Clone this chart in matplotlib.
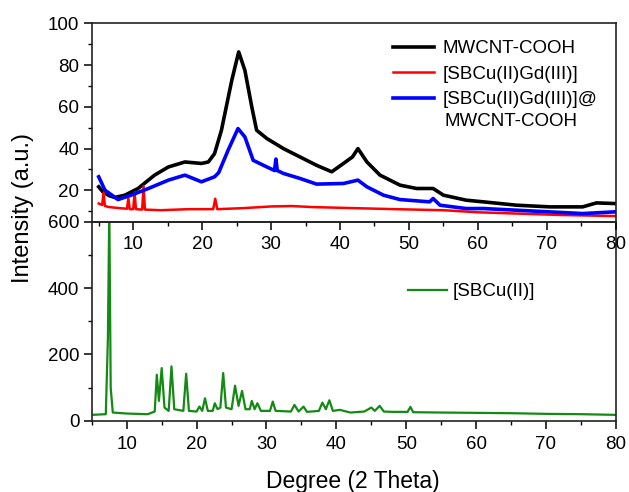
import matplotlib
matplotlib.use("Agg")
import matplotlib.pyplot as plt
from matplotlib.ticker import MultipleLocator

plt.rcParams['font.family'] = ['Liberation Sans', 'DejaVu Sans']

# MWCNT-COOH (black)
mw_x = [5.0, 5.6, 6.5, 7.3, 8.8, 10.7, 13.1, 15.1, 17.5, 19.9, 20.9, 21.8, 22.8, 23.1, 24.3,
        25.3, 26.2, 27.2, 27.9, 29.4, 31.8, 34.2, 36.6, 38.8, 40.5, 41.8, 42.6, 43.9, 45.8,
        48.7, 51.1, 53.5, 55.0, 58.3, 60.8, 65.6, 70.4, 75.2, 77.2, 79.8]
mw_y = [21.7, 19.3, 17.5, 16.6, 17.7, 20.9, 27.3, 31.2, 33.6, 32.9, 33.6, 37.6, 48.8, 53.6, 72.7,
        86.3, 77.5, 60.0, 48.8, 44.8, 40.0, 36.0, 32.0, 28.9, 32.9, 36.0, 40.0, 33.6, 27.3,
        22.5, 20.9, 20.9, 17.7, 15.3, 14.5, 12.9, 12.1, 12.1, 14.0, 13.7]

# [SBCu(II)Gd(III)] (red)
gd_x = [5.0, 5.5, 5.7, 5.9, 6.5, 8.0, 9.1, 9.3, 9.5, 10.0, 10.2, 10.4, 11.3, 11.5, 11.7, 14.0,
        18.0, 21.6, 21.9, 22.2, 26.0, 30.0, 33.0, 36.0, 42.0, 48.0, 55.0, 60.0, 65.6, 72.0, 80.0]
gd_y = [13.7, 13.0, 19.0, 12.5, 12.0, 11.5, 11.2, 16.3, 11.0, 11.0, 19.0, 11.0, 10.8, 22.0, 10.8, 10.5,
        11.0, 11.0, 16.0, 11.0, 11.5, 12.3, 12.5, 12.0, 11.5, 11.0, 10.5, 9.5, 8.9, 8.2, 7.7]

# [SBCu(II)Gd(III)]@MWCNT-COOH (blue)
cn_x = [5.0, 5.9, 7.8, 9.7, 12.2, 15.1, 17.5, 19.9, 21.8, 22.4, 23.8, 25.2, 26.2, 27.4, 29.4,
        30.5, 30.7, 30.9, 31.8, 34.2, 36.6, 40.5, 42.6, 43.9, 46.3, 48.7, 53.0, 53.5, 54.5,
        58.3, 60.8, 65.6, 70.4, 75.2, 79.8]
cn_y = [26.5, 20.1, 15.6, 17.7, 20.9, 24.9, 27.3, 24.1, 26.5, 28.5, 39.5, 49.6, 45.6, 34.4, 31.2,
        29.5, 35.0, 29.5, 28.1, 25.7, 23.0, 23.3, 24.9, 21.7, 17.7, 15.6, 14.5, 16.1, 12.9,
        11.3, 11.3, 10.5, 9.7, 8.9, 9.7]

# [SBCu(II)] (green)
cu_x = [5, 7.0, 7.3, 7.5, 7.7, 8.0, 10, 13, 14.0, 14.3, 14.6, 15.0, 15.4, 16.0, 16.4, 16.8,
        18.1, 18.5, 18.9, 20.0, 20.4, 20.8, 21.2, 21.6, 22.3, 22.6, 23.0, 23.4, 23.8, 24.2,
        25.0, 25.5, 26.0, 26.5, 27.0, 27.6, 27.9, 28.3, 28.7, 29.2, 30.5, 30.9, 31.3, 33.5,
        34.0, 34.6, 35.3, 35.8, 37.5, 38.0, 38.5, 39.0, 39.5, 40.5, 42, 44, 45.0, 45.5, 46.2,
        46.8, 48, 50.2, 50.6, 51.0, 55, 60, 65, 70, 75, 80]
cu_y = [18, 20, 250, 640, 100, 25, 22, 20, 28, 139, 60, 159, 40, 30, 164, 35,
        30, 142, 30, 28, 43, 30, 68, 30, 30, 53, 35, 40, 144, 40,
        35, 106, 45, 90, 35, 35, 60, 35, 53, 30, 30, 58, 30, 28,
        48, 28, 43, 27, 30, 55, 35, 62, 30, 33, 25, 28, 40, 30, 45,
        28, 27, 27, 42, 26, 25, 24, 23, 21, 20, 18]

fig = plt.figure(figsize=(6.29, 4.92), dpi=100)
ax1 = fig.add_axes([0.146, 0.5494, 0.833, 0.4032])
ax2 = fig.add_axes([0.146, 0.1433, 0.833, 0.4061])
# top panel's x labels sit over the lower panel
ax1.set_zorder(3)
ax1.patch.set_visible(False)

ax1.plot(mw_x, mw_y, color='black', lw=2.6, label='MWCNT-COOH')
ax1.plot(gd_x, gd_y, color='#ff0000', lw=1.8, label='[SBCu(II)Gd(III)]')
ax1.plot(cn_x, cn_y, color='#0000ff', lw=2.6, label='[SBCu(II)Gd(III)]@')
ax1.set_xlim(4, 80)
ax1.set_ylim(5, 100)
ax1.set_yticks([20, 40, 60, 80, 100])
ax1.yaxis.set_minor_locator(MultipleLocator(10))
ax1.xaxis.set_major_locator(MultipleLocator(10))
ax1.xaxis.set_minor_locator(MultipleLocator(5))

ax2.plot(cu_x, cu_y, color='#138a13', lw=1.6, label='[SBCu(II)]')
ax2.set_xlim(5, 80)
ax2.set_ylim(-2, 600)
ax2.set_yticks([0, 200, 400, 600])
ax2.yaxis.set_minor_locator(MultipleLocator(100))
ax2.xaxis.set_major_locator(MultipleLocator(10))
ax2.xaxis.set_minor_locator(MultipleLocator(5))

for ax in (ax1, ax2):
    ax.tick_params(which='major', direction='out', length=6, width=1.1, labelsize=13.5, pad=3,
                   top=False, right=False)
    ax.tick_params(which='minor', direction='out', length=3, width=1.0, top=False, right=False)
    ax.tick_params(axis='x', which='major', pad=4.5)
    for s in ax.spines.values():
        s.set_linewidth(1.2)
        s.set_color('#222222')

ax1.legend(loc='upper left', bbox_to_anchor=(393 / 629, 1 - 40 / 492),
           bbox_transform=fig.transFigure, frameon=False, fontsize=13.5,
           handlelength=2.2, handletextpad=0.45, labelspacing=0.45,
           borderaxespad=0, borderpad=0)
fig.text(444 / 629, 1 - 122 / 492, 'MWCNT-COOH', fontsize=13.5, va='center', ha='left')

ax2.legend(loc='upper left', bbox_to_anchor=(408 / 629, 1 - 283 / 492),
           bbox_transform=fig.transFigure, frameon=False, fontsize=13.5,
           handlelength=2.1, handletextpad=0.3, borderaxespad=0, borderpad=0)

fig.text(0.036, 0.577, 'Intensity (a.u.)', fontsize=17, rotation=90, ha='center', va='center')
fig.text(0.5615, 0.0075, 'Degree (2 Theta)', fontsize=16.5, ha='center', va='baseline')

fig.savefig('out.png', dpi=100)
